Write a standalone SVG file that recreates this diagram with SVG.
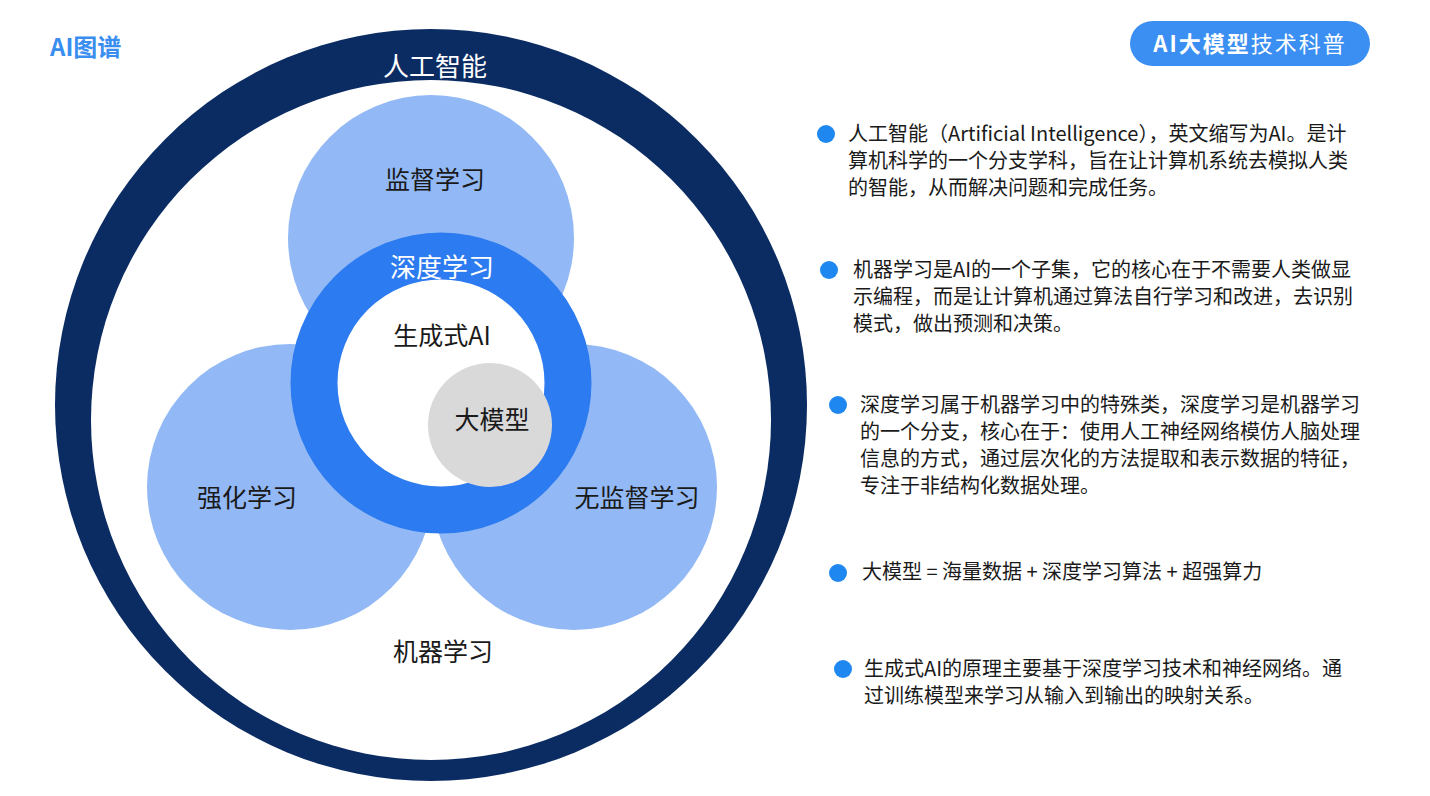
<svg xmlns="http://www.w3.org/2000/svg" width="1430" height="796" viewBox="0 0 1430 796">
<style>
text{font-family:"Noto Sans CJK SC","Noto Sans",sans-serif}
.c{text-anchor:middle;font-size:25px;fill:#1a1a1a}
.w{text-anchor:middle;font-size:26px;fill:#fff}
.d{font-size:20px;fill:#1a1a1a}
.b{fill:#1e88f0}
.lb{fill:#92b9f5}
</style>
<rect width="1430" height="796" fill="#fff"/>
<text x="50" y="56" font-size="24" font-weight="bold" fill="#3a8ef0">AI图谱</text>
<g id="badge"><rect x="1130" y="21" width="240" height="45" rx="22.5" fill="#3b8ff2"/>
<text x="1250" y="52" text-anchor="middle" font-size="22" fill="#fff" letter-spacing="2"><tspan font-weight="bold">AI大模型</tspan>技术科普</text></g>
<g id="ai"><circle cx="431" cy="405" r="376" fill="#0b2c62"/>
<circle cx="431" cy="420" r="340" fill="#fff"/>
<text class="w" x="435" y="76" font-size="28">人工智能</text></g>
<g id="sup"><circle class="lb" cx="431" cy="238" r="143"/></g>
<g id="rl"><circle class="lb" cx="290" cy="487" r="143"/></g>
<g id="unsup"><circle class="lb" cx="574" cy="487" r="143"/></g>
<g id="dl"><circle cx="441" cy="383" r="127" fill="#fff" stroke="#2d7bf0" stroke-width="47"/></g>
<g id="llm"><circle cx="490" cy="425" r="62" fill="#d9d9d9"/></g>
<g id="labels">
<text class="c" x="435" y="189">监督学习</text>
<text class="w" x="442" y="277">深度学习</text>
<text class="c" x="442" y="345">生成式AI</text>
<text class="c" x="492" y="429">大模型</text>
<text class="c" x="247" y="507">强化学习</text>
<text class="c" x="637" y="507">无监督学习</text>
<text class="c" x="443" y="661">机器学习</text>
</g>
<g id="desc">
<circle class="b" cx="826" cy="134" r="9"/>
<text class="d" x="848" y="141">人工智能（Artificial Intelligence），英文缩写为AI。是计</text>
<text class="d" x="848" y="168">算机科学的一个分支学科，旨在让计算机系统去模拟人类</text>
<text class="d" x="848" y="195">的智能，从而解决问题和完成任务。</text>
<circle class="b" cx="829" cy="270" r="9"/>
<text class="d" x="853" y="277">机器学习是AI的一个子集，它的核心在于不需要人类做显</text>
<text class="d" x="853" y="304">示编程，而是让计算机通过算法自行学习和改进，去识别</text>
<text class="d" x="853" y="331">模式，做出预测和决策。</text>
<circle class="b" cx="838" cy="405" r="9"/>
<text class="d" x="860" y="412">深度学习属于机器学习中的特殊类，深度学习是机器学习</text>
<text class="d" x="860" y="439">的一个分支，核心在于：使用人工神经网络模仿人脑处理</text>
<text class="d" x="860" y="466">信息的方式，通过层次化的方法提取和表示数据的特征，</text>
<text class="d" x="860" y="493">专注于非结构化数据处理。</text>
<circle class="b" cx="838" cy="573" r="9"/>
<text class="d" x="862" y="579">大模型 = 海量数据 + 深度学习算法 + 超强算力</text>
<circle class="b" cx="843" cy="669" r="9"/>
<text class="d" x="864" y="676">生成式AI的原理主要基于深度学习技术和神经网络。通</text>
<text class="d" x="864" y="703">过训练模型来学习从输入到输出的映射关系。</text>
</g>
<g id="connectors"/>
</svg>
